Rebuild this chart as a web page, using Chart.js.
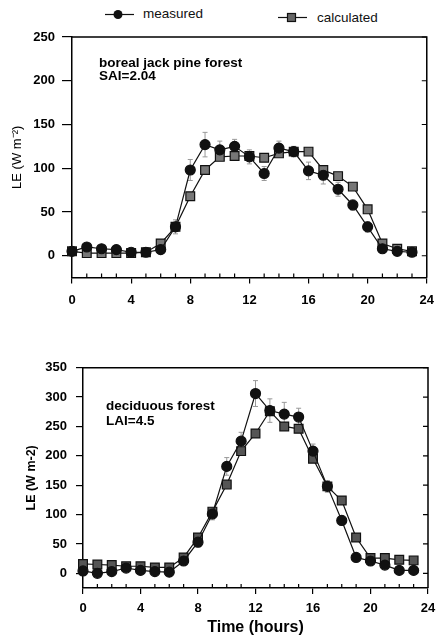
<!DOCTYPE html>
<html>
<head>
<meta charset="utf-8">
<script src="https://cdn.jsdelivr.net/npm/chart.js@4.4.1/dist/chart.umd.min.js"></script>
<style>
  body { margin: 0; background: #fff; width: 443px; height: 637px; position: relative; overflow: hidden;
         font-family: "Liberation Sans", Arial, sans-serif; }
  canvas { position: absolute; left: 0; }
  #topChart { top: 0; }
  #bottomChart { top: 330px; }
  .leg { position: absolute; font-size: 13.5px; line-height: 13.5px; color: #111; white-space: nowrap; }
</style>
</head>
<body>
<div class="leg" style="left:104px;top:7px">
  <svg width="32" height="14" style="position:absolute;left:0;top:1px">
    <line x1="1" y1="6.5" x2="30" y2="6.5" stroke="#111" stroke-width="1.2"/>
    <circle cx="14" cy="6.5" r="4.5" fill="#111"/>
  </svg>
  <span style="position:absolute;left:39px;top:0">measured</span>
</div>
<div class="leg" style="left:277px;top:11px">
  <svg width="32" height="14" style="position:absolute;left:0;top:0">
    <line x1="1" y1="6.5" x2="30" y2="6.5" stroke="#111" stroke-width="1.2"/>
    <rect x="10.5" y="2.5" width="8" height="8" fill="#666" stroke="#111" stroke-width="1.2"/>
  </svg>
  <span style="position:absolute;left:40px;top:0">calculated</span>
</div>
<canvas id="topChart" width="443" height="320"></canvas>
<canvas id="bottomChart" width="443" height="307"></canvas>
<script>
Chart.defaults.font.family = '"Liberation Sans", Arial, sans-serif';
Chart.defaults.color = "#000";

// données
var hours = [0, 1, 2, 3, 4, 5, 6, 7, 8, 9, 10, 11, 12, 13, 14, 15, 16, 17, 18, 19, 20, 21, 22, 23];
var xTicks = [0, 4, 8, 12, 16, 20, 24];

var topMeasured = [5, 10, 8, 7, 4, 4, 7, 33, 98, 127, 121, 125, 113, 94, 123, 119, 97, 92, 76, 58, 33, 8, 5, 4];
var topCalculated = [5, 3, 3, 3, 3, 4, 14, 33, 68, 98, 113, 114, 114, 112, 117, 119, 119, 98, 91, 79, 53, 14, 8, 5];
var topMeasuredErr = [2, 2, 2, 2, 2, 2, 3, 8, 12, 14, 10, 8, 8, 8, 8, 6, 10, 10, 8, 6, 6, 3, 2, 2];
var topYTicks = [0, 50, 100, 150, 200, 250];

var bottomMeasured = [4, 0, 3, 9, 5, 3, 2, 21, 53, 101, 182, 225, 306, 277, 271, 266, 208, 148, 90, 27, 21, 14, 5, 5];
var bottomCalculated = [16, 15, 14, 12, 12, 10, 10, 27, 61, 105, 151, 208, 238, 276, 250, 246, 195, 148, 124, 61, 26, 26, 23, 22];
var bottomMeasuredErr = [3, 3, 3, 3, 3, 3, 3, 5, 8, 10, 15, 15, 22, 20, 20, 15, 12, 10, 8, 6, 5, 4, 3, 3];
var bottomYTicks = [0, 50, 100, 150, 200, 250, 300, 350];

function points(values) {
  return hours.map(function (h, i) {
    return { x: h, y: values[i] };
  });
}

// cadre haut/droite + petites graduations vers l'intérieur
var framePlugin = {
  id: "frame",
  afterDraw: function (chart) {
    var ctx = chart.ctx, a = chart.chartArea, x = chart.scales.x, y = chart.scales.y;
    ctx.save();
    ctx.strokeStyle = "#000";
    ctx.lineWidth = 1.5;
    ctx.beginPath();
    ctx.moveTo(a.left, a.top);
    ctx.lineTo(a.right, a.top);
    ctx.lineTo(a.right, a.bottom);
    ctx.stroke();
    ctx.lineWidth = 1.2;
    ctx.beginPath();
    y.ticks.forEach(function (t) {
      var py = y.getPixelForValue(t.value);
      ctx.moveTo(a.right, py);
      ctx.lineTo(a.right - 5, py);
    });
    hours.forEach(function (h) {
      if (h % 4) {
        var px = x.getPixelForValue(h);
        ctx.moveTo(px, a.bottom);
        ctx.lineTo(px, a.bottom - 4);
      }
    });
    ctx.stroke();
    // texte dans le graphique
    var note = chart.options.plugins.note;
    if (note) {
      ctx.fillStyle = "#000";
      ctx.font = "bold " + note.size + "px " + Chart.defaults.font.family;
      ctx.textBaseline = "alphabetic";
      note.lines.forEach(function (txt, i) {
        ctx.fillText(txt, a.left + note.dx, a.top + note.dy + i * note.gap);
      });
    }
    ctx.restore();
  },
  beforeDatasetsDraw: function (chart) {
    var ctx = chart.ctx, x = chart.scales.x, y = chart.scales.y;
    ctx.save();
    ctx.strokeStyle = "#999";
    ctx.lineWidth = 1;
    chart.data.datasets.forEach(function (ds) {
      if (!ds.errors) return;
      ds.data.forEach(function (p, i) {
        var px = x.getPixelForValue(p.x);
        var top = y.getPixelForValue(p.y + ds.errors[i]);
        var bot = y.getPixelForValue(p.y - ds.errors[i]);
        ctx.beginPath();
        ctx.moveTo(px, top); ctx.lineTo(px, bot);
        ctx.moveTo(px - 2.5, top); ctx.lineTo(px + 2.5, top);
        ctx.moveTo(px - 2.5, bot); ctx.lineTo(px + 2.5, bot);
        ctx.stroke();
      });
    });
    ctx.restore();
  }
};

function makeChart(id, o) {
  return new Chart(document.getElementById(id).getContext("2d"), {
    type: "line",
    data: {
      datasets: [
        {
          label: "measured",
          data: points(o.measured),
          errors: o.errors,
          borderColor: "#111",
          borderWidth: 1.2,
          pointStyle: "circle",
          pointRadius: 5,
          pointBackgroundColor: "#111",
          pointBorderColor: "#111",
          clip: false,
        },
        {
          label: "calculated",
          data: points(o.calculated),
          borderColor: "#111",
          borderWidth: 1.2,
          pointStyle: "rect",
          pointRadius: 6.2,
          pointBackgroundColor: o.squareFill,
          pointBorderColor: "#111",
          pointBorderWidth: 1.2,
          clip: false,
        },
      ],
    },
    options: {
      responsive: false,
      animation: false,
      devicePixelRatio: 1,
      layout: { padding: { left: 0, right: o.padRight, top: o.padTop, bottom: 0 } },
      scales: {
        x: {
          type: "linear",
          min: 0,
          max: 24,
          afterBuildTicks: function (s) {
            s.ticks = xTicks.map(function (v) { return { value: v }; });
          },
          afterFit: function (s) { s.height = o.xHeight; },
          grid: { drawOnChartArea: false, tickLength: 6, color: "#000", lineWidth: 1.2 },
          border: { color: "#000", width: 1.5 },
          ticks: { color: "#000", font: { size: 13, weight: "bold" }, padding: o.xPad, maxRotation: 0, autoSkip: false },
          title: o.xTitle
            ? { display: true, text: o.xTitle, color: "#000", font: { size: 16, weight: "bold" }, padding: { top: 0, bottom: 0 } }
            : { display: false },
        },
        y: {
          min: -25,
          max: o.yMax,
          afterBuildTicks: function (s) {
            s.ticks = o.yTicks.map(function (v) { return { value: v }; });
          },
          afterFit: function (s) { s.width = o.yWidth; },
          grid: { drawOnChartArea: false, tickLength: o.yTickLen, color: "#000", lineWidth: 1.2 },
          border: { color: "#000", width: 1.5 },
          ticks: { color: "#000", font: { size: 13, weight: "bold" }, padding: o.yPad },
          title: {
            display: true,
            text: o.yTitle,
            color: "#000",
            font: o.yTitleFont,
            padding: { top: o.yTitlePad, bottom: 0 },
          },
        },
      },
      plugins: {
        legend: { display: false },
        tooltip: { enabled: false },
        note: o.note,
      },
    },
    plugins: [framePlugin],
  });
}

makeChart("topChart", {
  measured: topMeasured,
  calculated: topCalculated,
  errors: topMeasuredErr,
  squareFill: "#777",
  yMax: 250,
  yTicks: topYTicks,
  padTop: 37,
  padRight: 9,
  yWidth: 72,
  xHeight: 42.4,
  xPad: 9,
  yTickLen: 10,
  yPad: 7,
  yTitle: "LE (W m\u207B\u00B2)",
  yTitleFont: { size: 13 },
  yTitlePad: 10,
  note: { lines: ["boreal jack pine forest", "SAI=2.04"], dx: 27, dy: 30, gap: 12.8, size: 13.5 },
});

makeChart("bottomChart", {
  measured: bottomMeasured,
  calculated: bottomCalculated,
  errors: bottomMeasuredErr,
  squareFill: "#555",
  yMax: 350,
  yTicks: bottomYTicks,
  padTop: 37.7,
  padRight: 15,
  yWidth: 83,
  xHeight: 49,
  xPad: 7,
  yTickLen: 7,
  yPad: 9,
  yTitle: "LE (W m-2)",
  yTitleFont: { size: 12.5, weight: "bold" },
  yTitlePad: 24.5,
  xTitle: "Time (hours)",
  note: { lines: ["deciduous forest", "LAI=4.5"], dx: 23, dy: 42, gap: 15, size: 13.5 },
});
</script>
</body>
</html>
